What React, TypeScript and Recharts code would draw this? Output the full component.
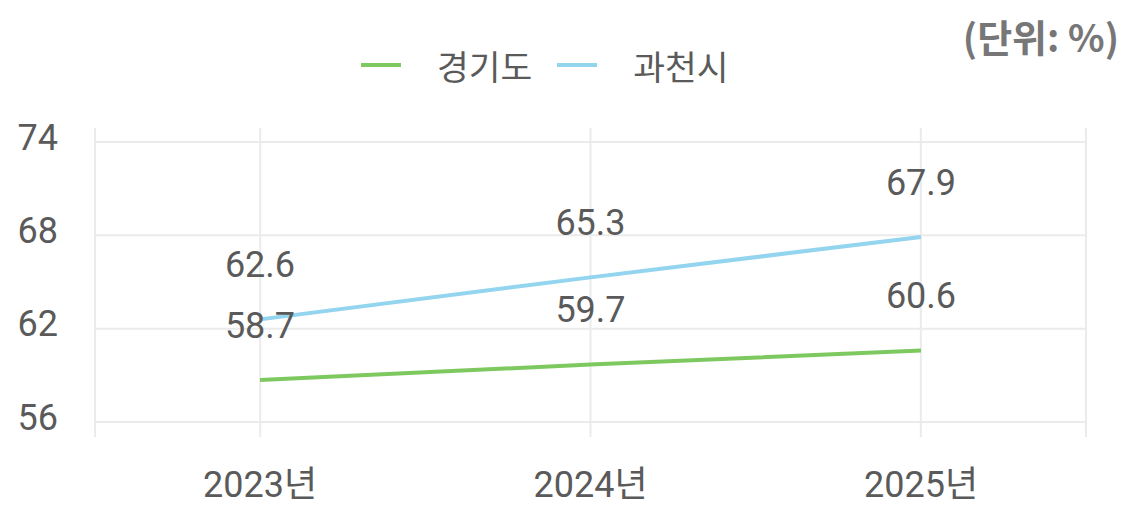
import { CartesianGrid, LabelList, Line, LineChart, XAxis, YAxis } from 'recharts';

const years = ['2023년', '2024년', '2025년'];
const gyeonggi = [58.7, 59.7, 60.6];
const gwacheon = [62.6, 65.3, 67.9];
const yTicks = [56, 62, 68, 74];
const yDomain: [number, number] = [55.04, 74.9];

const green = '#7ec860';
const blue = '#93d4ee';
const textColor = '#5a5a5a';
const gridColor = '#ebebeb';
const font = "Roboto, 'Noto Sans CJK KR', sans-serif";
const cjk = "'Noto Sans CJK KR', sans-serif";

const rows = years.map((year, i) => ({
  year,
  gyeonggi: gyeonggi[i],
  gwacheon: gwacheon[i],
}));

function LegendRow() {
  const item = (color: string, label: string) => (
    <div style={{ display: 'flex', alignItems: 'center' }}>
      <div style={{ width: 40, height: 4, background: color, marginRight: 36 }} />
      <span style={{ fontSize: 34.5, color: textColor, lineHeight: '36px' }}>{label}</span>
    </div>
  );
  return (
    <div
      style={{
        position: 'absolute',
        left: 361,
        top: 47,
        display: 'flex',
        gap: 25,
        fontFamily: cjk,
      }}
    >
      {item(green, '경기도')}
      {item(blue, '과천시')}
    </div>
  );
}

export default function App() {
  return (
    <div style={{ position: 'absolute', left: 0, top: 0, width: 1125, height: 505, background: '#fff', fontFamily: font }}>
      <LegendRow />
      <div
        style={{
          position: 'absolute',
          right: 6,
          top: 11,
          fontSize: 38,
          lineHeight: '50px',
          fontWeight: 700,
          color: '#777777',
          fontFamily: cjk,
        }}
      >
        (단위: %)
      </div>
      <LineChart
        width={1125}
        height={505}
        data={rows}
        margin={{ top: 128, right: 39, left: 0, bottom: 0 }}
        style={{ fontFamily: font }}
      >
        <CartesianGrid
          stroke={gridColor}
          strokeWidth={2}
          horizontalCoordinatesGenerator={({ offset }: any) =>
            yTicks.map(
              (t) => offset.top + ((yDomain[1] - t) / (yDomain[1] - yDomain[0])) * offset.height
            )
          }
          verticalCoordinatesGenerator={({ offset }: any) => {
            const l = offset.left;
            const w = offset.width;
            return [l, l + w / 6, l + w / 2, l + (5 * w) / 6, l + w];
          }}
        />
        <XAxis
          dataKey="year"
          axisLine={false}
          tickLine={false}
          tickSize={0}
          tickMargin={34}
          height={68}
          padding={{ left: 165, right: 165 }}
          tick={{ fontSize: 36, fill: textColor }}
        />
        <YAxis
          domain={yDomain}
          ticks={yTicks}
          axisLine={false}
          tickLine={false}
          tickSize={0}
          tickMargin={37}
          width={95}
          tick={{ fontSize: 36, fill: textColor, dy: -5 }}
        />
        <Line
          dataKey="gyeonggi"
          name="경기도"
          stroke={green}
          strokeWidth={4}
          dot={false}
          isAnimationActive={false}
        >
          <LabelList dataKey="gyeonggi" position="top" offset={42} fontSize={36} fill={textColor} />
        </Line>
        <Line
          dataKey="gwacheon"
          name="과천시"
          stroke={blue}
          strokeWidth={4}
          dot={false}
          isAnimationActive={false}
        >
          <LabelList dataKey="gwacheon" position="top" offset={42} fontSize={36} fill={textColor} />
        </Line>
      </LineChart>
    </div>
  );
}
